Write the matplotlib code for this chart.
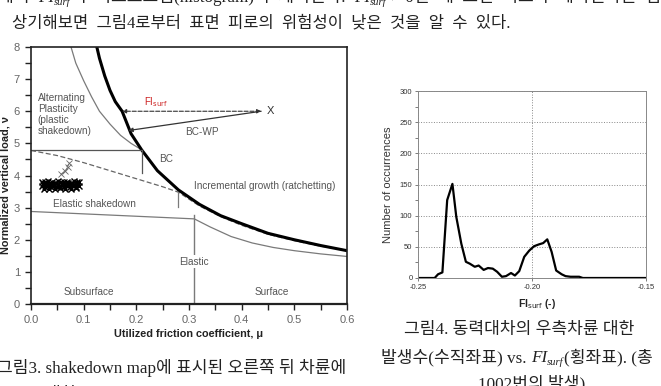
import matplotlib.pyplot as plt
from matplotlib.ticker import MultipleLocator

W, H = 661, 386
plt.rcParams['axes.unicode_minus'] = False

SANS = ['Liberation Sans', 'DejaVu Sans']
SERIF = ['Liberation Serif', 'Noto Sans CJK KR']

## Shakedown map data
bc_mu = [0.125, 0.13, 0.14, 0.15, 0.16, 0.173, 0.19, 0.21, 0.24, 0.28, 0.32, 0.36, 0.40, 0.45, 0.50, 0.55, 0.60]
bc_v = [8.0, 7.65, 7.1, 6.65, 6.3, 6.0, 5.3, 4.8, 4.15, 3.55, 3.1, 2.75, 2.5, 2.2, 2.0, 1.82, 1.66]

plastic_mu = [0.076, 0.085, 0.10, 0.115, 0.13, 0.15, 0.17, 0.19, 0.21]
plastic_v = [8.0, 7.5, 6.95, 6.45, 6.0, 5.6, 5.25, 5.0, 4.8]

ratchet_mu = [0.0, 0.05, 0.10, 0.15, 0.20, 0.25, 0.28, 0.32, 0.36, 0.40, 0.45, 0.50, 0.55, 0.60]
ratchet_v = [4.78, 4.62, 4.40, 4.15, 3.90, 3.65, 3.48, 3.05, 2.72, 2.45, 2.17, 1.97, 1.80, 1.67]

elastic_mu = [0.0, 0.31, 0.34, 0.38, 0.42, 0.46, 0.50, 0.55, 0.60]
elastic_v = [2.88, 2.65, 2.40, 2.10, 1.90, 1.76, 1.66, 1.56, 1.48]

# load points of the right rear wheel
cloud_mu = [0.020, 0.026, 0.032, 0.038, 0.044, 0.050, 0.056, 0.062, 0.068, 0.074, 0.080, 0.086, 0.091,
            0.022, 0.028, 0.034, 0.040, 0.046, 0.052, 0.058, 0.064, 0.070, 0.076, 0.082, 0.088,
            0.021, 0.027, 0.033, 0.039, 0.045, 0.051, 0.057, 0.063, 0.069, 0.075, 0.081, 0.087, 0.092,
            0.025, 0.035, 0.045, 0.055, 0.065, 0.075, 0.085]
cloud_v = [3.66, 3.64, 3.67, 3.63, 3.66, 3.64, 3.67, 3.63, 3.66, 3.64, 3.67, 3.65, 3.66,
           3.73, 3.75, 3.72, 3.74, 3.76, 3.72, 3.75, 3.73, 3.76, 3.72, 3.74, 3.73,
           3.81, 3.79, 3.82, 3.80, 3.78, 3.82, 3.79, 3.81, 3.80, 3.78, 3.82, 3.79, 3.80,
           3.58, 3.59, 3.57, 3.60, 3.58, 3.59, 3.60]
outlier_mu = [0.057, 0.065, 0.070, 0.073]
outlier_v = [4.04, 4.15, 4.28, 4.39]

mu_ticks = [0.0, 0.1, 0.2, 0.3, 0.4, 0.5, 0.6]

## FI_surf histogram data
fi_vals = [-0.25, -0.2427, -0.2412, -0.2393, -0.2372, -0.2349, -0.2332, -0.231, -0.229, -0.2273,
           -0.2251, -0.2234, -0.2212, -0.2193, -0.2172, -0.2153, -0.2132, -0.2114, -0.2092, -0.2075,
           -0.2056, -0.2034, -0.2012, -0.1991, -0.1969, -0.1951, -0.1933, -0.1914, -0.1894, -0.187,
           -0.1853, -0.1831, -0.1793, -0.1777, -0.15]
fi_counts = [0, 0, 6, 9, 125, 151, 98, 55, 26, 23,
             18, 20, 13, 16, 15, 10, 2, 3, 8, 4,
             11, 34, 44, 51, 54, 56, 62, 42, 12, 6,
             3, 2, 2, 0, 0]
fi_ticks = [-0.25, -0.20, -0.15]


def px_rect(x0, y0, x1, y1):
    return [x0 / W, 1 - y1 / H, (x1 - x0) / W, (y1 - y0) / H]


def ftext(x, y, s, **kw):
    return fig.text(x / W, 1 - y / H, s, **kw)


def text_run(x, y, pieces, ha='left'):
    ## place text pieces one after the other on a common baseline (y in px)
    r = fig.canvas.get_renderer()
    objs = []
    cx = x
    for s, kw, dy in pieces:
        t = ftext(cx, y + dy, s, va='baseline', ha='left', color='#222222', **kw)
        cx += t.get_window_extent(renderer=r).width
        objs.append(t)
    if ha == 'center':
        shift = (cx - x) / 2
        for t in objs:
            px, py = t.get_position()
            t.set_position((px - shift / W, py))


fig = plt.figure(figsize=(W / 100, H / 100), dpi=100)

## Left: shakedown map
ax = fig.add_axes(px_rect(31, 47, 347, 304))
gray = '#7a7a7a'
ax.plot(plastic_mu, plastic_v, color=gray, lw=0.9)
ax.plot(elastic_mu, elastic_v, color=gray, lw=0.9)
ax.plot(ratchet_mu, ratchet_v, color='#666666', lw=0.9, ls=(0, (4, 2)))
ax.plot(bc_mu, bc_v, color='black', lw=2.2)
ax.plot([0, 0.21], [4.8, 4.8], color='#555555', lw=0.9)
ax.plot([0.21, 0.21], [4.8, 4.08], color='#555555', lw=0.9)
ax.plot([0.279, 0.279], [3.5, 3.03], color=gray, lw=0.9)
ax.plot([0.31, 0.31], [2.77, 0], color=gray, lw=1.0)
ax.plot(cloud_mu, cloud_v, ls='none', marker='x', ms=4, mew=1.0, color='black')
ax.plot(outlier_mu, outlier_v, marker='x', ms=4, mew=0.6, lw=0.5, color='#666666')

ax.annotate('', xy=(0.173, 6.0), xytext=(0.437, 6.0),
            arrowprops=dict(arrowstyle='<|-|>', ls='--', lw=0.8, color='#333333',
                            mutation_scale=6, shrinkA=0, shrinkB=0))
ax.annotate('', xy=(0.185, 5.4), xytext=(0.437, 6.0),
            arrowprops=dict(arrowstyle='-|>', lw=0.9, color='#333333',
                            mutation_scale=6, shrinkA=0, shrinkB=0))

tc = '#555555'
LF = 7.2
ax.text(0.454, 6.0, 'X', fontsize=8, color='#333333', ha='center', va='center', family=SANS)
ax.text(0.237, 6.28, r'FI$_{\mathrm{surf}}$', fontsize=7, color='#cc2222', ha='center', va='center',
        family=SANS)
ax.text(0.013, 5.9, 'Alternating\nPlasticity\n(plastic\nshakedown)', fontsize=LF, color=tc,
        ha='left', va='center', linespacing=1.15, family=SANS)
ax.text(0.324, 5.34, 'BC-WP', fontsize=LF, color=tc, ha='center', va='center', family=SANS)
ax.text(0.256, 4.52, 'BC', fontsize=LF, color=tc, ha='center', va='center', family=SANS)
ax.text(0.31, 3.67, 'Incremental growth (ratchetting)', fontsize=LF, color=tc,
        ha='left', va='center', family=SANS)
ax.text(0.042, 3.11, 'Elastic shakedown', fontsize=LF, color=tc, ha='left', va='center', family=SANS)
ax.text(0.31, 1.32, 'Elastic', fontsize=LF, color=tc, ha='center', va='center', family=SANS,
        bbox=dict(fc='white', ec='none', pad=1.0))
ax.text(0.11, 0.37, 'Subsurface', fontsize=LF, color=tc, ha='center', va='center', family=SANS)
ax.text(0.457, 0.37, 'Surface', fontsize=LF, color=tc, ha='center', va='center', family=SANS)

ax.set_xticks(mu_ticks)
ax.set_xticklabels(['%.1f' % t for t in mu_ticks])
ax.xaxis.set_minor_locator(MultipleLocator(0.05))
ax.yaxis.set_major_locator(MultipleLocator(1))
ax.yaxis.set_minor_locator(MultipleLocator(0.5))
ax.set_xlim(0, 0.6)
ax.set_ylim(0, 8)
ax.tick_params(which='both', direction='out', length=4, width=1.0, color='#222222',
               labelsize=8, labelcolor='#666666', pad=4)
for s in ax.spines.values():
    s.set_linewidth(1.2)
    s.set_color('#222222')
ax.spines['bottom'].set_linewidth(1.6)
for lab in ax.get_xticklabels() + ax.get_yticklabels():
    lab.set_family(SANS)

ftext(189, 334, 'Utilized friction coefficient, \u03bc', fontsize=7.8, fontweight='bold',
      ha='center', va='center', color='#222222', family=SANS)
ftext(6, 185, 'Normalized vertical load, \u03bd', fontsize=7.8, fontweight='bold', rotation=90,
      ha='center', va='center', color='#222222', family=SANS)

## Right: FI_surf histogram
ax2 = fig.add_axes(px_rect(418, 91, 646, 278))
ax2.plot(fi_vals, fi_counts, color='black', lw=1.6)
ax2.set_xticks(fi_ticks)
ax2.set_xticklabels(['%.2f' % t for t in fi_ticks])
ax2.set_xlim(-0.25, -0.15)
ax2.set_ylim(0, 300)
ax2.yaxis.set_major_locator(MultipleLocator(50))
ax2.yaxis.set_minor_locator(MultipleLocator(25))
ax2.grid(True, which='major', ls=':', lw=0.7, color='#888888')
ax2.tick_params(which='both', direction='out', length=2, width=0.6, color='#666666',
                labelsize=5.5, labelcolor='#333333', pad=2)
for s in ax2.spines.values():
    s.set_linewidth(0.7)
    s.set_color('#888888')
for lab in ax2.get_xticklabels() + ax2.get_yticklabels():
    lab.set_family(SANS)
ax2.set_ylabel('Number of occurrences', fontsize=8, color='#333333', family=SANS, labelpad=5)
ftext(537, 304, r'FI$_{\mathrm{surf}}$ (-)', fontsize=7.5, fontweight='bold', ha='center', va='center',
      color='#222222', family=SANS)

## Document text around the figures
FS = 12.3
ser = dict(fontsize=FS, family=SERIF)
fi = dict(fontsize=FS, family='Liberation Serif', style='italic')
sub = dict(fontsize=FS * 0.62, family='Liberation Serif', style='italic')

text_run(-2, 2, [('에서  ', ser, 0), ('FI', fi, 0), ('surf', sub, 3),
                 ('의  히스토그램(histogram)이  제시된다.  ', ser, 0), ('FI', fi, 0), ('surf', sub, 3),
                 (' > 0일  때  표면  피로가  예측된다는  점', ser, 0)])
text_run(12, 27, [('상기해보면  그림4로부터  표면  피로의  위험성이  낮은  것을  알  수  있다.',
                   dict(fontsize=11.9, family=SERIF), 0)])
text_run(-3, 373, [('그림3. shakedown map에 표시된 오른쪽 뒤 차륜에', ser, 0)])
text_run(45, 399, [('대한 ', ser, 0), ('FI', fi, 0), ('surf', sub, 3), (' 의 분포 (동력대차, 1002번)', ser, 0)])
text_run(519, 334, [('그림4. 동력대차의 우측차륜 대한', ser, 0)], ha='center')
text_run(517, 362, [('발생수(수직좌표) vs. ', ser, 0), ('FI', fi, 0), ('surf', sub, 3),
                    ('(횡좌표). (총', ser, 0)], ha='center')
text_run(532, 388, [('1002번의 발생)', ser, 0)], ha='center')

fig.savefig('out.png', dpi=100)
